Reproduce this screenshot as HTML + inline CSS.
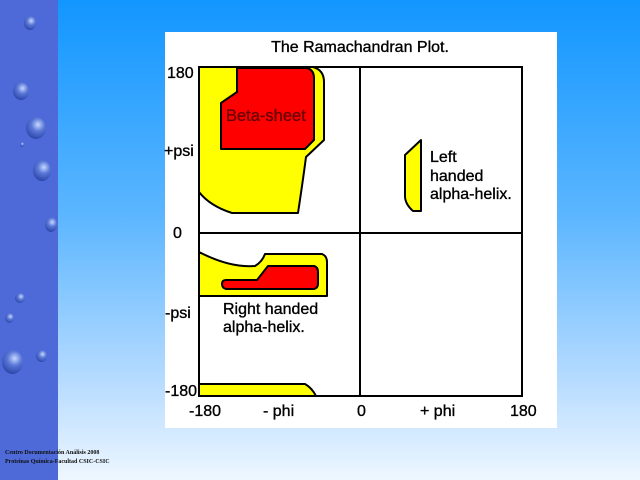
<!DOCTYPE html>
<html><head><style>
html,body{margin:0;padding:0;}
body{width:640px;height:480px;position:relative;overflow:hidden;
background:linear-gradient(to bottom,#1296ff 0%,#5cb6ff 45%,#b8dcff 80%,#eef7ff 100%);font-family:"Liberation Sans",sans-serif;}
#strip{position:absolute;left:0;top:0;width:58px;height:480px;background:#4d6ad8;}
.drop{position:absolute;border-radius:50%;background:radial-gradient(circle at 60% 35%,#c8d8ff 0%,#5a78d8 35%,#2a44a8 80%);}
#credit{position:absolute;left:5px;top:449px;font-family:"Liberation Serif",serif;font-size:6px;font-weight:bold;color:#111;line-height:9px;white-space:nowrap;}
</style></head><body>
<div id="strip"></div>
<div class="drop" style="left:24px;top:16px;width:12px;height:14px"></div>
<div class="drop" style="left:13px;top:82px;width:16px;height:18px"></div>
<div class="drop" style="left:26px;top:117px;width:20px;height:22px"></div>
<div class="drop" style="left:20px;top:142px;width:4px;height:5px"></div>
<div class="drop" style="left:33px;top:160px;width:18px;height:21px"></div>
<div class="drop" style="left:45px;top:217px;width:12px;height:15px"></div>
<div class="drop" style="left:15px;top:293px;width:10px;height:10px"></div>
<div class="drop" style="left:5px;top:313px;width:9px;height:10px"></div>
<div class="drop" style="left:2px;top:350px;width:21px;height:24px"></div>
<div class="drop" style="left:36px;top:350px;width:11px;height:12px"></div>
<div id="credit">Centro Documentación Análisis 2008<br>Proteínas Química-Facultad CSIC-CSIC</div>
<svg style="position:absolute;left:0;top:0" width="640" height="480">
<rect x="165" y="32" width="392" height="396" fill="#fff"/>
<g stroke="#000" stroke-width="2" stroke-linejoin="round">
<path d="M199,67 L313,67 Q324,70 324,82 L324,140 L306,157 Q303,180 298,213 L232,213 Q210,206 199,192 Z" fill="#ffff00"/>
<path d="M237,68 L307,68 Q314,70 314,78 L314,140 L305,149 L221,149 L221,103 L237,92 Z" fill="#ff0000"/>
<path d="M199,252 Q230,268 255,266 Q262,262 265,254 L322,254 Q327,256 327,262 L327,296 L199,296 Z" fill="#ffff00"/>
<path d="M226,280 L257,280 L268,266 L314,266 Q318,267 318,272 L318,284 Q318,288 314,289 L226,289 Q222,288 222,284 Q222,280 226,280 Z" fill="#ff0000"/>
<path d="M199,384 L305,384 Q312,388 316,396 L199,396 Z" fill="#ffff00"/>
<path d="M405,155 L421,140 L421,211 L413,211 Q405,204 405,196 Z" fill="#ffff00"/>
</g>
<rect x="199" y="67" width="323" height="329" fill="none" stroke="#000" stroke-width="2"/>
<line x1="199" y1="233" x2="522" y2="233" stroke="#000" stroke-width="2"/>
<line x1="360" y1="67" x2="360" y2="396" stroke="#000" stroke-width="2"/>
<g font-size="16" fill="#000" stroke="#000" stroke-width="0.35">
<text x="360" y="52" text-anchor="middle">The Ramachandran Plot.</text>
<text x="167" y="78">180</text>
<text x="164" y="156">+psi</text>
<text x="173" y="238">0</text>
<text x="165" y="318">-psi</text>
<text x="165" y="396">-180</text>
<text x="189" y="416">-180</text>
<text x="263" y="416">- phi</text>
<text x="357" y="416">0</text>
<text x="420" y="416">+ phi</text>
<text x="510" y="416">180</text>
<text x="226" y="121" fill="#6a0000" stroke="#6a0000" font-size="16.5">Beta-sheet</text>
<text x="430" y="162">Left</text>
<text x="430" y="181">handed</text>
<text x="430" y="199">alpha-helix.</text>
<text x="223" y="314">Right handed</text>
<text x="223" y="332">alpha-helix.</text>
</g>
</svg>
</body></html>
